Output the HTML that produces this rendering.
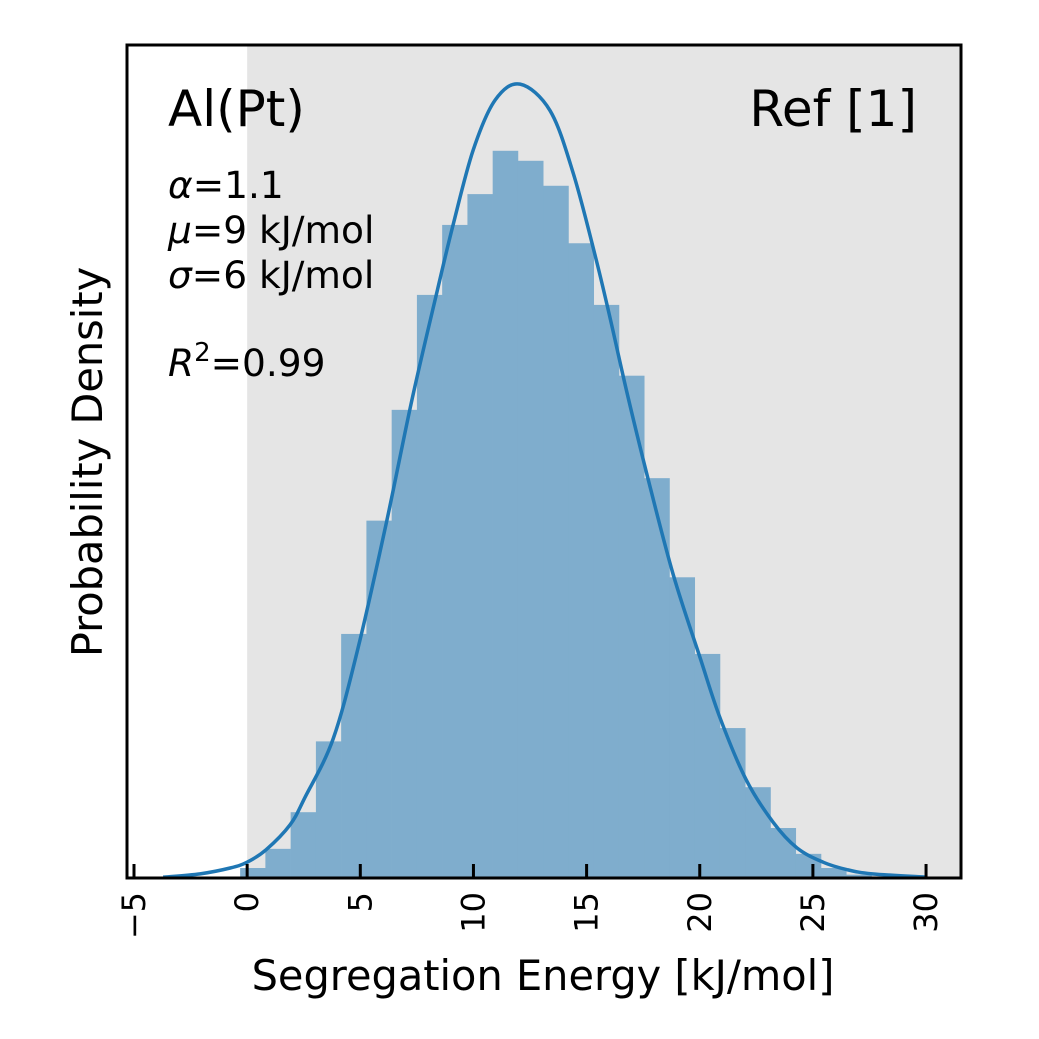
<!DOCTYPE html>
<html><head><meta charset="utf-8"><style>
html,body{margin:0;padding:0;background:#fff;}
body{position:relative;width:1039px;height:1039px;}
svg{display:block;font-family:"DejaVu Sans","Liberation Sans",sans-serif;}
</style></head><body>
<svg id="chart" width="1039" height="1039" viewBox="0 0 1039 1039">
<rect x="0" y="0" width="1039" height="1039" fill="#fff"/>
<g id="plot"></g>
</svg>
<script>
const binStart = -0.31;
const binWidth = 1.116;
const binValues = [0.0012,0.0035,0.0079,0.0164,0.0293,0.0429,0.0562,0.0700,0.0784,0.0821,0.0873,0.0861,0.0831,0.0762,0.0688,0.0603,0.0480,0.0361,0.0269,0.0180,0.0109,0.0060,0.0029,0.0012,0.0004];
const curveX = [-3.71,-2.08,-0.75,0,0.84,1.90,2.56,3.80,4.90,6.14,7.29,8.40,9.10,9.99,10.96,12.06,13.39,14.41,15.38,16.04,16.79,17.68,18.83,20.02,20.90,22.05,23.24,24.30,25.45,26.51,27.62,30.00];
const curveY = [0.0001,0.0005,0.0012,0.0019,0.0034,0.0064,0.0097,0.0167,0.0276,0.0425,0.0575,0.0705,0.0784,0.0874,0.0934,0.0953,0.0921,0.0846,0.0747,0.0672,0.0582,0.0483,0.0364,0.0264,0.0192,0.0118,0.0067,0.0036,0.0019,0.0010,0.0005,0.0001];
const xTicks = [-5,0,5,10,15,20,25,30];
const xTickLabels = ["\u22125","0","5","10","15","20","25","30"];

const L=127,R=961,T=45,B=878;
const sx=v=>134+(v+5)*22.63;
const sy=v=>B-v*8330;
const NS="http://www.w3.org/2000/svg";
const g=document.getElementById('plot');
function mk(tag,attrs){const e=document.createElementNS(NS,tag);for(const k in attrs)e.setAttribute(k,attrs[k]);g.appendChild(e);return e;}

const shade=mk('rect',{x:sx(0),y:T,width:R-sx(0),height:B-T,fill:'#e5e5e5'});



binValues.forEach((v,i)=>{
  const x0=sx(binStart+i*binWidth), x1=sx(binStart+(i+1)*binWidth);
  const r=mk('rect',{x:x0,y:sy(v),width:x1-x0+0.3,height:B-sy(v),fill:'#7fadcd'});
  
  
});

const pts=curveX.map((x,i)=>[sx(x),sy(curveY[i])]);
let d=`M${pts[0][0]},${pts[0][1]}`;
for(let i=0;i<pts.length-1;i++){
  const p0=pts[Math.max(0,i-1)],p1=pts[i],p2=pts[i+1],p3=pts[Math.min(pts.length-1,i+2)];
  const c1=[p1[0]+(p2[0]-p0[0])/6,p1[1]+(p2[1]-p0[1])/6];
  const c2=[p2[0]-(p3[0]-p1[0])/6,p2[1]-(p3[1]-p1[1])/6];
  d+=`C${c1[0]},${c1[1]} ${c2[0]},${c2[1]} ${p2[0]},${p2[1]}`;
}
const line=mk('path',{d:d,fill:'none',stroke:'#1f77b4','stroke-width':3.5});



const frame=mk('rect',{x:L,y:T,width:R-L,height:B-T,fill:'none',stroke:'#000','stroke-width':3});



xTicks.forEach((t,i)=>{
  const x=sx(t);
  const tk=mk('line',{x1:x,x2:x,y1:B,y2:B-14,stroke:'#000','stroke-width':3});
  
  
  const lb=mk('text',{x:0,y:0,'font-size':32,'text-anchor':'end',transform:`translate(${x+11},892) rotate(-90)`});
  lb.textContent=xTickLabels[i];
  
  
});
</script>
<svg style="position:absolute;left:0;top:0" width="1039" height="1039" font-family="DejaVu Sans, Liberation Sans, sans-serif">
<text x="543" y="990" font-size="41.5" text-anchor="middle">Segregation Energy [kJ/mol]</text>
<text transform="translate(102,462) rotate(-90)" font-size="41.5" text-anchor="middle">Probability Density</text>
<text x="168" y="126" font-size="50">Al(Pt)</text>
<text x="917" y="126" font-size="50" text-anchor="end">Ref [1]</text>
<text x="168" y="198" font-size="37.5"><tspan font-style="italic">α</tspan>=1.1</text>
<text x="168" y="243" font-size="37.5"><tspan font-style="italic">μ</tspan>=9 kJ/mol</text>
<text x="168" y="288" font-size="37.5"><tspan font-style="italic">σ</tspan>=6 kJ/mol</text>
<text x="168" y="376" font-size="37.5"><tspan font-style="italic">R</tspan><tspan font-size="26" dy="-15">2</tspan><tspan dy="15">=0.99</tspan></text>
</svg>
</body></html>
